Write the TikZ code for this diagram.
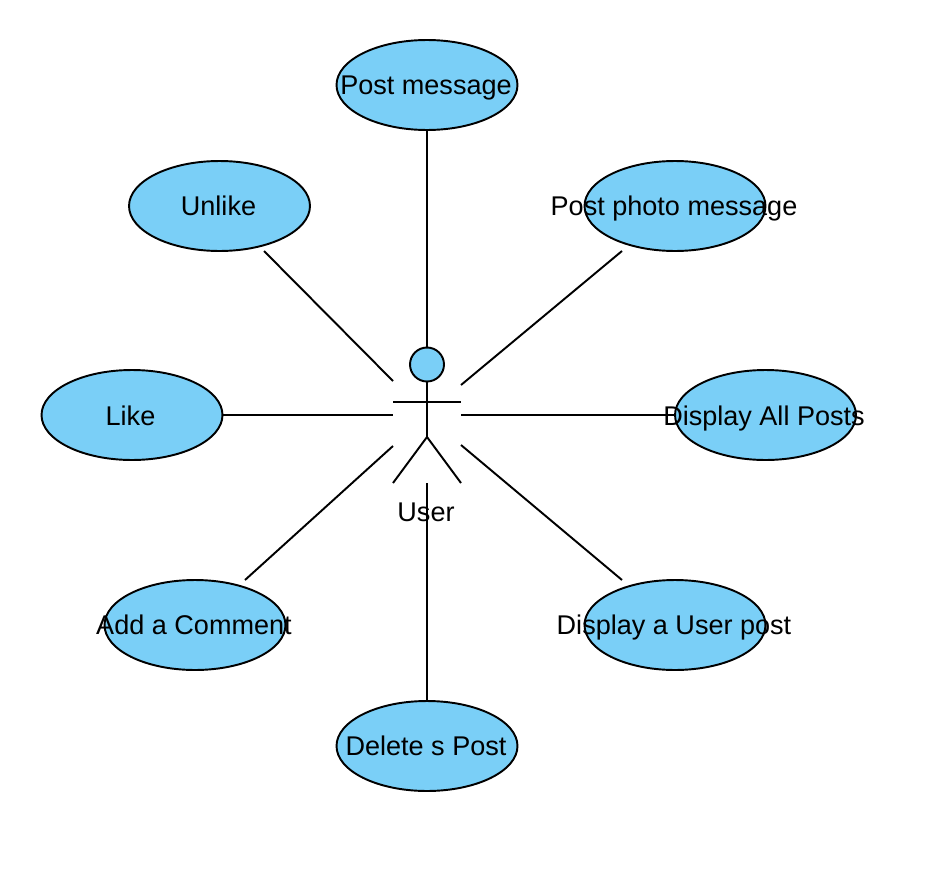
\documentclass[tikz,border=0pt]{standalone}
\usepackage{fontspec}
\setmainfont{Liberation Sans}
\usepackage{tikz}
\usetikzlibrary{shapes.geometric, positioning}
\definecolor{ucfill}{RGB}{122,207,247}
\tikzset{
    usecase/.style={ellipse, draw=black, fill=ucfill, line width=1.1pt, minimum width=3.62cm, minimum height=1.8cm, inner sep=0pt},
    uclabel/.style={font=\fontsize{15.4}{18}\selectfont, text=black, text height=13pt, text depth=2.2pt, inner sep=0pt},
    link/.style={line width=1.1pt, draw=black}
}
\begin{document}
\begin{tikzpicture}[x=0.02cm, y=-0.02cm]
    \useasboundingbox (0,0) rectangle (927,886);

    % Use cases
    \node[usecase] (post) at (427,85) {};
    \node[usecase] (unlike) at (219.5,206) {};
    \node[usecase] (photo) at (675,206) {};
    \node[usecase] (like) at (132,415) {};
    \node[usecase] (display) at (765.5,415) {};
    \node[usecase] (comment) at (195,625) {};
    \node[usecase] (userpost) at (675,625) {};
    \node[usecase] (delete) at (427,746) {};

    % Labels
    \node[uclabel] (postlabel) at (426,85) {Post message};
    \node[uclabel] (unlikelabel) at (218.5,206) {Unlike};
    \node[uclabel] (photolabel) at (674,206) {Post photo message};
    \node[uclabel] (likelabel) at (130.5,416) {Like};
    \node[uclabel] (displaylabel) at (764,416) {Display All Posts};
    \node[uclabel] (commentlabel) at (194,625) {Add a Comment};
    \node[uclabel] (userpostlabel) at (674,625) {Display a User post};
    \node[uclabel] (deletelabel) at (426,746) {Delete s Post};

    % Actor
    \node[circle, draw=black, fill=ucfill, line width=1.1pt, minimum size=0.68cm, inner sep=0pt] (head) at (427,364.5) {};
    \coordinate (waist) at (427,437);
    \coordinate (armL) at (393,402);
    \coordinate (armR) at (461,402);
    \coordinate (footL) at (393,483);
    \coordinate (footR) at (461,483);
    \draw[link] (head.south) -- (waist);
    \draw[link] (armL) -- (armR);
    \draw[link] (footL) -- (waist) -- (footR);
    \node[uclabel] (user) at (426,512.5) {User};

    % Free ends of the links at the actor
    \coordinate (endpost) at (427,347);
    \coordinate (endunlike) at (393,381);
    \coordinate (endphoto) at (461,385);
    \coordinate (endlike) at (393,415);
    \coordinate (enddisplay) at (461,415);
    \coordinate (endcomment) at (393,446);
    \coordinate (enduserpost) at (461,445);
    \coordinate (enddelete) at (427,483);
    \coordinate (startunlike) at (264,251);
    \coordinate (startphoto) at (622,251);
    \coordinate (startcomment) at (245,580);
    \coordinate (startuserpost) at (622,580);

    % Links
    \draw[link] (post) -- (endpost);
    \draw[link] (startunlike) -- (endunlike);
    \draw[link] (startphoto) -- (endphoto);
    \draw[link] (like) -- (endlike);
    \draw[link] (enddisplay) -- (display);
    \draw[link] (startcomment) -- (endcomment);
    \draw[link] (startuserpost) -- (enduserpost);
    \draw[link] (delete) -- (enddelete);
\end{tikzpicture}
\end{document}
